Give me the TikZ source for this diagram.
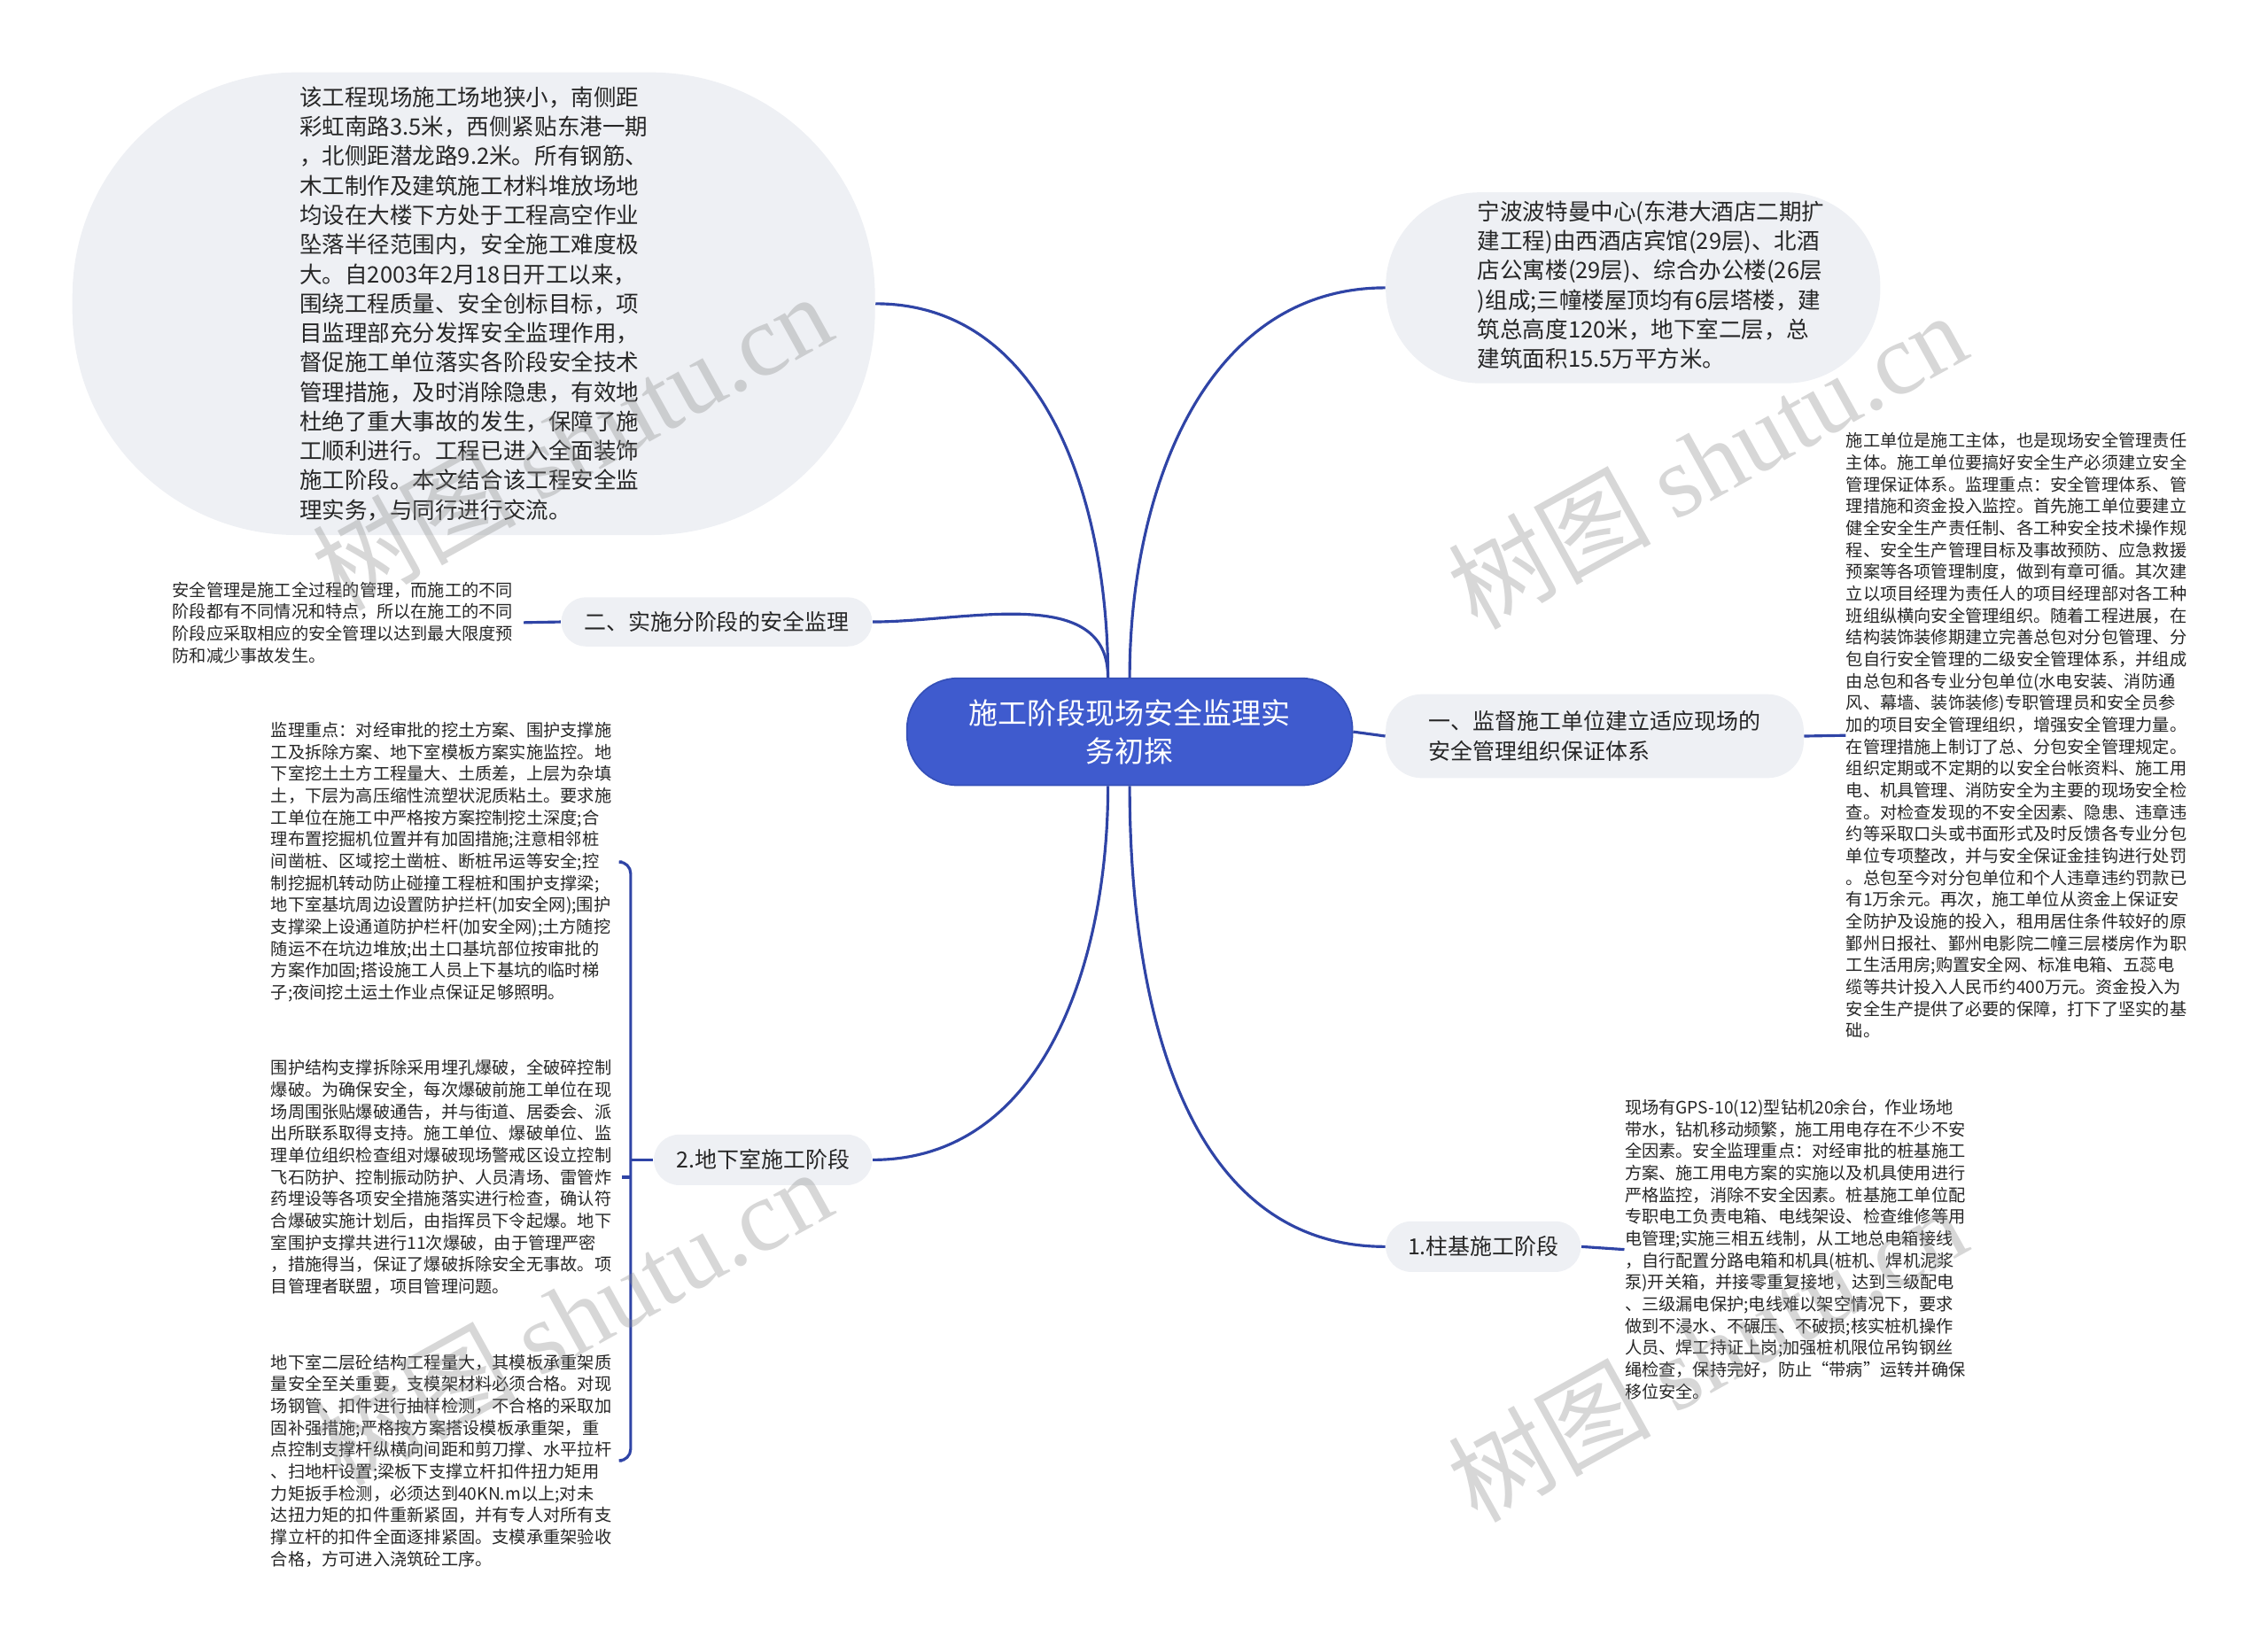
\documentclass[tikz,border=0pt]{standalone}
\usepackage{fontspec}
\setmainfont{Noto Sans CJK SC}
\newfontfamily\wmlatin{Liberation Serif}
\definecolor{rootblue}{HTML}{3F5BCE}
\definecolor{rootedge}{HTML}{3550B8}
\definecolor{bubblegray}{HTML}{EEF0F4}
\definecolor{linkblue}{HTML}{2F44A6}
\definecolor{inkgray}{HTML}{262626}
\definecolor{markgray}{HTML}{8C8C8C}

\begin{document}
\begin{tikzpicture}[x=0.02cm, y=-0.02cm,
    rootbox/.style={fill=rootblue, draw=rootedge, line width=0.6pt, text=white, align=center,
        inner sep=0pt, font=\fontsize{11.5}{14.8}\selectfont},
    branchbox/.style={fill=bubblegray, text=inkgray, align=left, inner sep=0pt,
        font=\fontsize{8.7}{11.9}\selectfont},
    bubble/.style={fill=bubblegray, text=inkgray, align=left, inner sep=0pt,
        font=\fontsize{8.9}{11.6}\selectfont},
    note/.style={text=inkgray, align=left, text width=4.85cm, inner sep=0pt,
        font=\fontsize{6.7}{8.6}\selectfont},
    link/.style={draw=linkblue, line width=1.1pt},
    watermark/.style={text=markgray, opacity=0.35, rotate=29, inner sep=0pt,
        font=\fontsize{40}{40}\selectfont}
]
    \useasboundingbox (0,0) rectangle (1568,1142);

    % Root
    \node[rootbox, minimum width=6.16cm, minimum height=1.48cm, rounded corners=0.7cm]
        (root) at (781,506) {施工阶段现场安全监理实\\务初探};

    % Upper left - project intro bubble
    \node[bubble, minimum width=11.1cm, minimum height=6.4cm, rounded corners=3.1cm] (intro) at (327.5,210)
        {该工程现场施工场地狭小，南侧距\\彩虹南路3.5米，西侧紧贴东港一期\\，北侧距潜龙路9.2米。所有钢筋、\\木工制作及建筑施工材料堆放场地\\均设在大楼下方处于工程高空作业\\坠落半径范围内，安全施工难度极\\大。自2003年2月18日开工以来，\\围绕工程质量、安全创标目标，项\\目监理部充分发挥安全监理作用，\\督促施工单位落实各阶段安全技术\\管理措施，及时消除隐患，有效地\\杜绝了重大事故的发生，保障了施\\工顺利进行。工程已进入全面装饰\\施工阶段。本文结合该工程安全监\\理实务，与同行进行交流。};

    % Upper right - building overview bubble
    \node[bubble, minimum width=6.84cm, minimum height=2.64cm, rounded corners=1.3cm]
        (overview) at (1129,199)
        {\begin{tabular}{@{\hspace{0.5cm}}l@{}}
        宁波波特曼中心(东港大酒店二期扩\\建工程)由西酒店宾馆(29层)、北酒\\店公寓楼(29层)、综合办公楼(26层\\)组成;三幢楼屋顶均有6层塔楼，建\\筑总高度120米，地下室二层，总\\建筑面积15.5万平方米。
        \end{tabular}};

    % Left branch - staged supervision
    \node[branchbox, minimum width=4.3cm, minimum height=0.68cm, rounded corners=0.34cm]
        (stages) at (495.5,430) {二、实施分阶段的安全监理};
    \node[note, anchor=east] (stagesnote) at (362,430.5)
        {安全管理是施工全过程的管理，而施工的不同\\阶段都有不同情况和特点，所以在施工的不同\\阶段应采取相应的安全管理以达到最大限度预\\防和减少事故发生。};

    % Right branch - organisation
    \node[branchbox, minimum width=5.78cm, minimum height=1.16cm, rounded corners=0.5cm]
        (org) at (1102.5,509) {一、监督施工单位建立适应现场的\\安全管理组织保证体系};
    \node[note, anchor=west] (orgnote) at (1276,508.5)
        {施工单位是施工主体，也是现场安全管理责任\\主体。施工单位要搞好安全生产必须建立安全\\管理保证体系。监理重点：安全管理体系、管\\理措施和资金投入监控。首先施工单位要建立\\健全安全生产责任制、各工种安全技术操作规\\程、安全生产管理目标及事故预防、应急救援\\预案等各项管理制度，做到有章可循。其次建\\立以项目经理为责任人的项目经理部对各工种\\班组纵横向安全管理组织。随着工程进展，在\\结构装饰装修期建立完善总包对分包管理、分\\包自行安全管理的二级安全管理体系，并组成\\由总包和各专业分包单位(水电安装、消防通\\风、幕墙、装饰装修)专职管理员和安全员参\\加的项目安全管理组织，增强安全管理力量。\\在管理措施上制订了总、分包安全管理规定。\\组织定期或不定期的以安全台帐资料、施工用\\电、机具管理、消防安全为主要的现场安全检\\查。对检查发现的不安全因素、隐患、违章违\\约等采取口头或书面形式及时反馈各专业分包\\单位专项整改，并与安全保证金挂钩进行处罚\\。总包至今对分包单位和个人违章违约罚款已\\有1万余元。再次，施工单位从资金上保证安\\全防护及设施的投入，租用居住条件较好的原\\鄞州日报社、鄞州电影院二幢三层楼房作为职\\工生活用房;购置安全网、标准电箱、五蕊电\\缆等共计投入人民币约400万元。资金投入为\\安全生产提供了必要的保障，打下了坚实的基\\础。};

    % Lower right - pile stage
    \node[branchbox, minimum width=2.7cm, minimum height=0.7cm, rounded corners=0.35cm]
        (pile) at (1025.5,862) {1.柱基施工阶段};
    \node[note, anchor=west] (pilenote) at (1123,864)
        {现场有GPS-10(12)型钻机20余台，作业场地\\带水，钻机移动频繁，施工用电存在不少不安\\全因素。安全监理重点：对经审批的桩基施工\\方案、施工用电方案的实施以及机具使用进行\\严格监控，消除不安全因素。桩基施工单位配\\专职电工负责电箱、电线架设、检查维修等用\\电管理;实施三相五线制，从工地总电箱接线\\，自行配置分路电箱和机具(桩机、焊机泥浆\\泵)开关箱，并接零重复接地，达到三级配电\\、三级漏电保护;电线难以架空情况下，要求\\做到不浸水、不碾压、不破损;核实桩机操作\\人员、焊工持证上岗;加强桩机限位吊钩钢丝\\绳检查，保持完好，防止“带病”运转并确保\\移位安全。};

    % Lower left - basement stage
    \node[branchbox, minimum width=3.02cm, minimum height=0.7cm, rounded corners=0.35cm]
        (basement) at (527.5,802) {2.地下室施工阶段};
    \node[note, anchor=west] (digging) at (187,596)
        {监理重点：对经审批的挖土方案、围护支撑施\\工及拆除方案、地下室模板方案实施监控。地\\下室挖土土方工程量大、土质差，上层为杂填\\土，下层为高压缩性流塑状泥质粘土。要求施\\工单位在施工中严格按方案控制挖土深度;合\\理布置挖掘机位置并有加固措施;注意相邻桩\\间凿桩、区域挖土凿桩、断桩吊运等安全;控\\制挖掘机转动防止碰撞工程桩和围护支撑梁;\\地下室基坑周边设置防护拦杆(加安全网);围护\\支撑梁上设通道防护栏杆(加安全网);土方随挖\\随运不在坑边堆放;出土口基坑部位按审批的\\方案作加固;搭设施工人员上下基坑的临时梯\\子;夜间挖土运土作业点保证足够照明。};
    \node[note, anchor=west] (blasting) at (187,814)
        {围护结构支撑拆除采用埋孔爆破，全破碎控制\\爆破。为确保安全，每次爆破前施工单位在现\\场周围张贴爆破通告，并与街道、居委会、派\\出所联系取得支持。施工单位、爆破单位、监\\理单位组织检查组对爆破现场警戒区设立控制\\飞石防护、控制振动防护、人员清场、雷管炸\\药埋设等各项安全措施落实进行检查，确认符\\合爆破实施计划后，由指挥员下令起爆。地下\\室围护支撑共进行11次爆破，由于管理严密\\，措施得当，保证了爆破拆除安全无事故。项\\目管理者联盟，项目管理问题。};
    \node[note, anchor=west] (formwork) at (187,1010)
        {地下室二层砼结构工程量大，其模板承重架质\\量安全至关重要，支模架材料必须合格。对现\\场钢管、扣件进行抽样检测，不合格的采取加\\固补强措施;严格按方案搭设模板承重架，重\\点控制支撑杆纵横向间距和剪刀撑、水平拉杆\\、扫地杆设置;梁板下支撑立杆扣件扭力矩用\\力矩扳手检测，必须达到40KN.m以上;对未\\达扭力矩的扣件重新紧固，并有专人对所有支\\撑立杆的扣件全面逐排紧固。支模承重架验收\\合格，方可进入浇筑砼工序。};
    \coordinate (fork) at (436,802);

    % Connectors from the root
    \draw[link] ([xshift=-0.3cm]root.north) to[out=90,in=0] (intro.east);
    \draw[link] ([xshift=-0.3cm]root.north) to[out=90,in=0] (stages.east);
    \draw[link] (root.north) to[out=90,in=180] (overview.west);
    \draw[link] (root.east) -- (org.west);
    \draw[link] ([xshift=-0.3cm]root.south) to[out=-90,in=0] (basement.east);
    \draw[link] (root.south) to[out=-90,in=180] (pile.west);

    % Connectors to the notes
    \draw[link] (stages.west) -- (stagesnote.east);
    \draw[link] (org.east) -- (orgnote.west);
    \draw[link] (pile.east) -- (pilenote.west);
    \draw[link] (basement.west) -- (fork);
    \draw[link, rounded corners=0.16cm] (digging.east) -| (fork) |- (formwork.east);
    \draw[link] (blasting.east) -- (blasting.east -| fork);

    % Watermarks
    \node[watermark] (wmA) at (395,305) {树图 {\wmlatin shutu.cn}};
    \node[watermark] (wmB) at (1180,318) {树图 {\wmlatin shutu.cn}};
    \node[watermark] (wmC) at (395,910) {树图 {\wmlatin shutu.cn}};
    \node[watermark] (wmD) at (1180,935) {树图 {\wmlatin shutu.cn}};

\end{tikzpicture}
\end{document}
